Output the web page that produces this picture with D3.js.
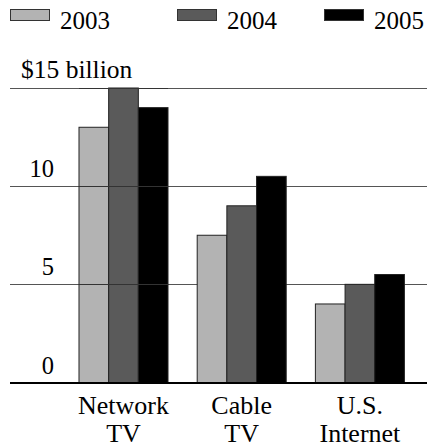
<!DOCTYPE html>
<html><head><meta charset="utf-8">
<script src="https://cdn.jsdelivr.net/npm/d3@7"></script>
<style>
body{margin:0;background:#fff;font-family:"Liberation Serif",serif}
svg{display:block}
svg text{font-family:"Liberation Serif",serif !important}
</style>
</head><body>
<script>
const categories = [["Network","TV"],["Cable","TV"],["U.S.","Internet"]];
const years = ["2003","2004","2005"];
const values2003 = [13.0, 7.5, 4.0];
const values2004 = [15.0, 9.0, 5.0];
const values2005 = [14.0, 10.5, 5.5];
const tickValues = [0, 5, 10, 15];
const tickLabels = ["0","5","10","$15 billion"];
const colors = ["#b3b3b3","#5a5a5a","#000000"];

const series = [values2003, values2004, values2005];
const W = 427, H = 447;
const svg = d3.select("body").append("svg").attr("width", W).attr("height", H)
  .attr("font-family", "Liberation Serif, serif");

const catKeys = categories.map(c => c.join(" "));
const x0 = d3.scaleBand().domain(catKeys).range([64.4, 419]).paddingInner(0.247).paddingOuter(0.1235);
const x1 = d3.scaleBand().domain(years).range([0, x0.bandwidth()]);
const y = d3.scaleLinear().domain([0, 15]).range([382.5, 88]);

const grid = svg.append("g");
tickValues.filter(v => v > 0).forEach(v => {
  grid.append("line").attr("x1", 10).attr("x2", W).attr("y1", Math.round(y(v)) + 0.5).attr("y2", Math.round(y(v)) + 0.5)
    .attr("stroke", "#555").attr("stroke-width", 1.2);
});

const groups = svg.append("g").selectAll("g").data(catKeys).join("g")
  .attr("transform", d => `translate(${x0(d)},0)`);
groups.selectAll("rect").data((d, i) => years.map((yr, j) => ({yr, v: series[j][i], j})))
  .join("rect")
  .attr("x", d => x1(d.yr))
  .attr("width", x1.bandwidth())
  .attr("y", d => y(d.v))
  .attr("height", d => y(0) - y(d.v))
  .attr("fill", d => colors[d.j])
  .attr("stroke", "#222").attr("stroke-width", 1);

const g0 = catKeys[0];
tickValues.filter(v => v > 0).forEach(v => {
  svg.append("line").attr("x1", x0(g0)).attr("x2", x0(g0) + x0.bandwidth())
    .attr("y1", Math.round(y(v)) + 0.5).attr("y2", Math.round(y(v)) + 0.5)
    .attr("stroke", "#333").attr("stroke-width", 1);
});

svg.append("line").attr("x1", 10).attr("x2", W).attr("y1", y(0) + 0.5).attr("y2", y(0) + 0.5)
  .attr("stroke", "#000").attr("stroke-width", 2);

const txt = (x, yy, s, size, anchor) => svg.append("text")
  .style("font-family", '"Liberation Serif"')
  .attr("font-size", size)
  .attr("x", x).attr("y", yy)
  .attr("text-anchor", anchor || "start")
  .text(s);

tickValues.forEach((v, i) => {
  if (v === 15) txt(21, y(v) - 10, tickLabels[i], 25.5);
  else txt(54, y(v) - 9, tickLabels[i], 24.5, "end");
});

categories.forEach((c, i) => {
  const cx = x0(catKeys[i]) + x0.bandwidth() / 2;
  c.forEach((line, k) => txt(cx, 413.5 + k * 28.5, line, 26, "middle"));
});

const legX = [10, 177, 324];
years.forEach((yr, i) => {
  svg.append("rect").attr("x", legX[i] + 0.5).attr("y", 9.5).attr("width", 39).attr("height", 11)
    .attr("fill", colors[i]).attr("stroke", "#333").attr("stroke-width", 1);
  txt(legX[i] + 50, 28.5, yr, 25);
});
</script>
</body></html>
